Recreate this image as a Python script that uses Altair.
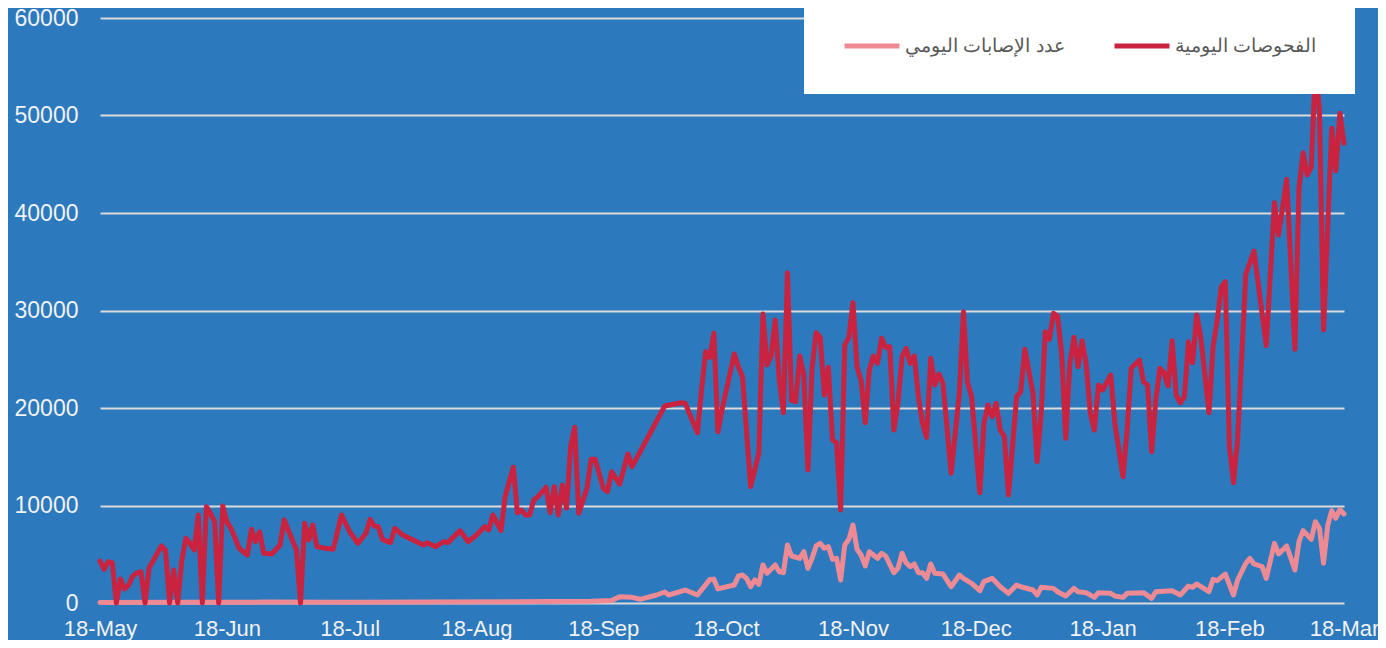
import altair as alt
import pandas as pd

start_date = "2020-05-18"
end_date = "2021-03-18"

# day offsets from 18-May-2020 and daily values
tests_days = [0, 1, 2, 3, 4, 5, 6, 7, 8, 9, 10, 11, 12, 15, 16, 17, 18, 19, 20, 21, 22, 23, 24, 25, 26, 27, 28, 29,
              30, 31, 32, 34, 36, 37, 38, 39, 40, 42, 44, 45, 48, 49, 50, 51, 52, 53, 55, 57, 59, 61, 63, 65, 66, 67,
              68, 69, 71, 72, 74, 79, 80, 82, 84, 85, 88, 90, 92, 94, 95, 96, 98, 99, 101, 102, 103, 104, 105, 106,
              107, 109, 110, 111, 112, 113, 114, 115, 116, 117, 119, 120, 121, 123, 124, 125, 127, 129, 130, 132,
              138, 142, 143, 146, 147, 148, 149, 150, 151, 152, 155, 156, 157, 159, 161, 162, 163, 164, 165, 166,
              167, 168, 169, 170, 171, 172, 173, 174, 175, 176, 177, 178, 179, 180, 181, 182, 183, 184, 185, 186,
              187, 188, 189, 190, 191, 192, 193, 194, 195, 196, 197, 198, 199, 200, 201, 202, 203, 204, 205, 206,
              208, 210, 211, 212, 213, 215, 216, 217, 218, 219, 220, 221, 222, 224, 225, 226, 228, 229, 230, 231,
              232, 233, 234, 235, 236, 237, 238, 239, 240, 241, 242, 243, 244, 245, 247, 248, 250, 251, 252, 254,
              255, 256, 257, 258, 259, 260, 261, 262, 263, 264, 265, 266, 267, 268, 269, 271, 272, 273, 274, 275,
              276, 277, 278, 280, 282, 285, 287, 288, 290, 292, 293, 294, 295, 296, 297, 298, 299, 301, 302, 303,
              304]
tests_vals = [4300, 3450, 4240, 4130, 0, 2460, 1440, 1850, 2770, 3080, 3210, 0, 3590, 5850, 5440, 0, 3380, 0, 4400,
              6640, 6120, 5440, 9030, 0, 9880, 9200, 8340, 0,
              9950, 8340, 7660, 5610, 4920, 7560, 6290, 7310, 5100, 5030, 5950, 8510, 5440, 0, 8170, 6460, 8000, 5780,
              5610, 5510, 9030, 7310, 6120, 7150, 8580, 7900,
              7830, 6530, 6190, 7660, 6970, 5950, 6190, 5780, 6290, 6190, 7420, 6290, 6970, 7830, 7490, 9030, 7420,
              10900, 13920, 9260, 9540, 9030, 9030, 10560,
              10900, 11870, 9260, 11930, 9030, 12100, 9710, 16030, 18020, 9200, 11760, 14740, 14740, 11760, 11420,
              13470, 12200, 15280, 13980, 15520,
              20200, 20540, 20480, 17470, 21850, 25780, 25200, 27660, 17570, 19800, 25540, 24240, 23210, 11930, 15350,
              29640, 24410, 25330, 29020, 22870,
              19520, 33870, 20750, 20650, 25330, 23380, 13640, 24070, 27720, 27250, 21330, 24170, 16720, 16440, 9540,
              26460, 27250, 30800, 24170, 22800,
              18490, 23900, 25330, 24580, 27150, 26220, 26290, 17740, 20480, 25260, 26120, 24580, 25330, 21160, 18430,
              16990, 25090, 22360, 23490, 22530,
              13300, 21500, 29870, 22600, 21160, 11310, 18430, 20310, 19110, 20480, 17740, 17060, 11080, 21160, 21670,
              26020, 21500, 14490, 19460, 27830,
              27050, 29710, 29430, 25610, 16890, 24580, 27250, 24240, 26900, 24500, 19460, 17740, 22360, 21850, 23380,
              18430, 12950, 17740, 24070, 24920,
              22700, 22360, 15520, 20820, 24070, 23620, 22260, 26900, 21330, 20540, 21160, 26800, 24650, 29540, 27250,
              19520, 26290, 28950, 32380, 32950,
              16030, 12340, 16720, 33740, 36090, 26400, 41050, 37740, 43450, 26020, 42530, 46180, 43900, 44680, 55000,
              50560, 28000, 48690, 44340, 50220,
              47150]

cases_days = [0, 20, 40, 60, 80, 100, 110, 120, 125, 127, 130, 132, 136, 138, 139, 143, 146, 149, 150, 151, 155,
              156, 157, 158, 159, 160, 161, 162, 163, 165, 166, 167, 168, 169, 171, 172, 173, 174, 175, 176, 177,
              178, 179, 180, 181, 182, 183, 184, 185, 186, 187, 188, 189, 190, 191, 192, 194, 195, 196, 197, 198,
              199, 200, 201, 202, 203, 204, 206, 208, 210, 211, 213, 215, 216, 218, 220, 222, 224, 225, 228, 229,
              230, 233, 234, 236, 238, 239, 241, 243, 244, 247, 248, 250, 251, 255, 257, 258, 262, 264, 266, 267,
              268, 271, 272, 273, 275, 277, 278, 280, 281, 282, 284, 285, 287, 288, 290, 292, 293, 294, 296, 297,
              298, 299, 300, 301, 302, 303, 304]
cases_vals = [40, 70, 90, 80, 100, 130, 150, 180, 260, 650, 580, 380, 820, 1130, 820, 1330, 820, 2400, 2450, 1450,
              1850, 2770, 2870, 2530, 1670, 2360, 1920, 3900, 3050, 3900, 3210, 3110, 5950, 4820, 4580, 5260, 3560,
              4580, 5850, 6120, 5610, 5780, 4480, 4580, 2360, 5950, 6530, 8000, 5510, 4920, 3800, 5260, 4920, 4580,
              5100, 4820, 3110, 3560, 5100, 4130, 3720, 4000, 3110, 3110, 2530, 4000, 3050, 2970, 1670, 2870, 2530,
              2020, 1260, 2190, 2530, 1670, 990, 1850, 1670, 1330, 820, 1610, 1500, 1160, 720, 1500, 1160, 1060,
              580, 1060, 990, 720, 580, 990, 1060, 480, 1160, 1260, 820, 1740, 1610, 1950, 1160, 2430, 2290, 2970,
              820, 2360, 4070, 4580, 4000, 3720, 2530, 6120, 5030, 5850, 3380, 6290, 7420, 6530, 8340, 7660, 4070,
              7900, 9470, 8690, 9610, 9130]

series_names = ["عدد الإصابات اليومي", "الفحوصات اليومية"]
series_colors = ["#EE8A93", "#C9233F"]
tick_dates = ["2020-05-18", "2020-06-18", "2020-07-18", "2020-08-18", "2020-09-18", "2020-10-18",
              "2020-11-18", "2020-12-18", "2021-01-18", "2021-02-18", "2021-03-18"]
y_ticks = [0, 10000, 20000, 30000, 40000, 50000, 60000]

base = pd.Timestamp(start_date)


def to_dates(days):
    return [(base + pd.Timedelta(days=d)).strftime("%Y-%m-%d") for d in days]


df = pd.concat([
    pd.DataFrame({"date": to_dates(cases_days), "value": cases_vals, "series": series_names[0]}),
    pd.DataFrame({"date": to_dates(tests_days), "value": tests_vals, "series": series_names[1]}),
], ignore_index=True)


def dt(s):
    t = pd.Timestamp(s)
    return alt.DateTime(year=t.year, month=t.month, date=t.day, utc=True)


label_color = "#F2F2F2"

chart = alt.Chart(df).mark_line(strokeWidth=5, strokeCap="round", strokeJoin="round").encode(
    x=alt.X("date:T",
            scale=alt.Scale(type="utc", domain=[dt(start_date), dt(end_date)], nice=False),
            axis=alt.Axis(values=[dt(s) for s in tick_dates], format="%d-%b", title=None,
                          grid=False, ticks=False, domain=False, labelFont="Arial", labelFlush=False,
                          labelFontSize=22, labelColor=label_color, labelPadding=15)),
    y=alt.Y("value:Q",
            scale=alt.Scale(domain=[0, 60000], nice=False),
            axis=alt.Axis(values=y_ticks, format="d", title=None, ticks=False, domain=False,
                          labelFont="Arial", labelFontSize=23, labelColor=label_color,
                          labelPadding=22, gridColor="#DADADA", gridWidth=2)),
    color=alt.Color("series:N",
                    scale=alt.Scale(domain=series_names, range=series_colors),
                    legend=alt.Legend(orient="none", legendX=704, legendY=-40, direction="horizontal",
                                      title=None, fillColor="white", padding=38, symbolType="stroke",
                                      symbolSize=3025, symbolStrokeWidth=5, labelFont="Arial",
                                      labelFontSize=19, labelColor="#595959", columnPadding=39,
                                      labelOffset=3)),
    order=alt.Order("date:T"),
).properties(
    width=1244,
    height=585,
    background="#2C79BE",
    padding={"left": 92, "top": 10, "right": 34, "bottom": 37},
    autosize=alt.AutoSizeParams(type="none"),
).configure_view(stroke=None)

chart.save("out.html", embed_options={"renderer": "svg", "actions": False})
